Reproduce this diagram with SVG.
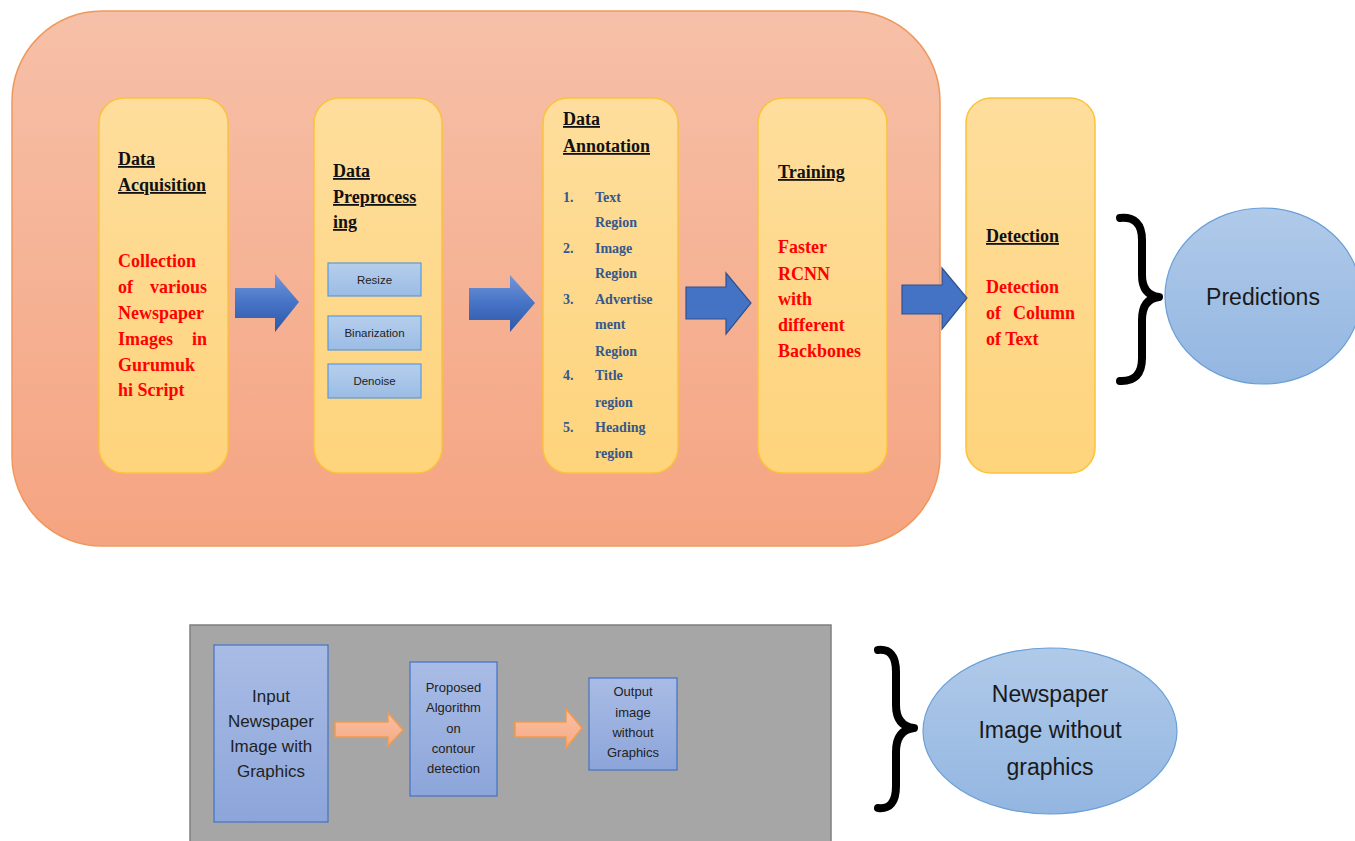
<svg xmlns="http://www.w3.org/2000/svg" width="1355" height="841" viewBox="0 0 1355 841">
<defs>
<linearGradient id="gBig" x1="0" y1="0" x2="0" y2="1"><stop offset="0" stop-color="#F6C0A8"/><stop offset="1" stop-color="#F5A481"/></linearGradient>
<linearGradient id="gY" x1="0" y1="0" x2="0" y2="1"><stop offset="0" stop-color="#FEDE9D"/><stop offset="1" stop-color="#FED47C"/></linearGradient>
<linearGradient id="gLB" x1="0" y1="0" x2="0" y2="1"><stop offset="0" stop-color="#B6CEEC"/><stop offset="1" stop-color="#9BBCE5"/></linearGradient>
<linearGradient id="gEl" x1="0" y1="0" x2="0" y2="1"><stop offset="0" stop-color="#B0CAE9"/><stop offset="1" stop-color="#93B6E1"/></linearGradient>
<linearGradient id="gBB" x1="0" y1="0" x2="0" y2="1"><stop offset="0" stop-color="#A9BCE5"/><stop offset="1" stop-color="#8CA5DA"/></linearGradient>
<linearGradient id="gArr" x1="0" y1="0" x2="0" y2="1"><stop offset="0" stop-color="#7396D8"/><stop offset="0.5" stop-color="#4673C6"/><stop offset="1" stop-color="#2E57A6"/></linearGradient>
<linearGradient id="gOr" x1="0" y1="0" x2="0" y2="1"><stop offset="0" stop-color="#F9C0A4"/><stop offset="1" stop-color="#F6AA85"/></linearGradient>
</defs>
<style>
.big{fill:url(#gBig);stroke:#EF985E;stroke-width:1.5}
.ybox{fill:url(#gY);stroke:#FBC23A;stroke-width:1.5}
.head{font-family:"Liberation Serif",serif;font-weight:bold;font-size:18px;fill:#111;text-decoration:underline}
.red{font-family:"Liberation Serif",serif;font-weight:bold;font-size:18px;fill:#FF0000}
.lst{font-family:"Liberation Serif",serif;font-weight:bold;font-size:14px;fill:#35588C}
.sb{fill:url(#gLB);stroke:#5B9BD5;stroke-width:1.2}
.sbt{font-family:"Liberation Sans",sans-serif;font-size:11.5px;fill:#222;text-anchor:middle}
.arrG{fill:url(#gArr);stroke:none}
.arrB{fill:#4472C4;stroke:#2F528F;stroke-width:1.2}
.arrO{fill:url(#gOr);stroke:#F39A4C;stroke-width:1.5}
.brace{fill:none;stroke:#000;stroke-width:8;stroke-linecap:round;stroke-linejoin:round}
.ell{fill:url(#gEl);stroke:#6A9FD8;stroke-width:1.2}
.et{font-family:"Liberation Sans",sans-serif;fill:#1a1a1a;text-anchor:middle}
.bb{fill:url(#gBB);stroke:#4472C4;stroke-width:1.2}
.bt{font-family:"Liberation Sans",sans-serif;fill:#222;text-anchor:middle}
</style>

<g id="pipeline">
<rect class="big" x="12" y="11" width="928" height="535" rx="90" ry="90"/>
</g>

<g id="acquisition">
<rect class="ybox" x="99" y="98" width="129" height="375" rx="25"/>
<text class="head" x="118" y="165">Data</text>
<text class="head" x="118" y="191">Acquisition</text>
<text class="red" x="118" y="267">Collection</text>
<text class="red" x="118" y="293">of</text><text class="red" x="207" y="293" text-anchor="end">various</text>
<text class="red" x="118" y="319">Newspaper</text>
<text class="red" x="118" y="345">Images</text><text class="red" x="207" y="345" text-anchor="end">in</text>
<text class="red" x="118" y="371">Gurumuk</text>
<text class="red" x="118" y="396">hi Script</text>
</g>

<g id="preprocessing">
<rect class="ybox" x="314" y="98" width="128" height="375" rx="25"/>
<text class="head" x="333" y="177">Data</text>
<text class="head" x="333" y="203">Preprocess</text>
<text class="head" x="333" y="228">ing</text>
<rect class="sb" x="328" y="263" width="93" height="33"/>
<text class="sbt" x="374.5" y="284">Resize</text>
<rect class="sb" x="328" y="316" width="93" height="34"/>
<text class="sbt" x="374.5" y="337">Binarization</text>
<rect class="sb" x="328" y="364" width="93" height="34"/>
<text class="sbt" x="374.5" y="385">Denoise</text>
</g>

<g id="annotation">
<rect class="ybox" x="543" y="98" width="135" height="375" rx="25"/>
<text class="head" x="563" y="125">Data</text>
<text class="head" x="563" y="152">Annotation</text>
<text class="lst" x="563" y="202">1.</text><text class="lst" x="595" y="202">Text</text>
<text class="lst" x="595" y="227">Region</text>
<text class="lst" x="563" y="253">2.</text><text class="lst" x="595" y="253">Image</text>
<text class="lst" x="595" y="278">Region</text>
<text class="lst" x="563" y="304">3.</text><text class="lst" x="595" y="304">Advertise</text>
<text class="lst" x="595" y="329">ment</text>
<text class="lst" x="595" y="356">Region</text>
<text class="lst" x="563" y="380">4.</text><text class="lst" x="595" y="380">Title</text>
<text class="lst" x="595" y="407">region</text>
<text class="lst" x="563" y="432">5.</text><text class="lst" x="595" y="432">Heading</text>
<text class="lst" x="595" y="458">region</text>
</g>

<g id="training">
<rect class="ybox" x="758" y="98" width="129" height="375" rx="25"/>
<text class="head" x="778" y="178">Training</text>
<text class="red" x="778" y="253">Faster</text>
<text class="red" x="778" y="280">RCNN</text>
<text class="red" x="778" y="305">with</text>
<text class="red" x="778" y="331">different</text>
<text class="red" x="778" y="357">Backbones</text>
</g>

<g id="detection">
<rect class="ybox" x="966" y="98" width="129" height="375" rx="25"/>
<text class="head" x="986" y="242">Detection</text>
<text class="red" x="986" y="293">Detection</text>
<text class="red" x="986" y="319">of</text><text class="red" x="1075" y="319" text-anchor="end">Column</text>
<text class="red" x="986" y="345">of Text</text>
</g>

<g id="predictions">
<ellipse class="ell" cx="1263" cy="296" rx="98" ry="88"/>
<text class="et" x="1263" y="305" font-size="23">Predictions</text>
</g>

<g id="graphics-removal">
<rect x="190" y="625" width="641" height="230" fill="#A6A6A6" stroke="#7F7F7F" stroke-width="1.5"/>
</g>

<g id="input">
<rect class="bb" x="214" y="645" width="114" height="177"/>
<text class="bt" font-size="17" x="271" y="702">Input</text>
<text class="bt" font-size="17" x="271" y="727">Newspaper</text>
<text class="bt" font-size="17" x="271" y="752">Image with</text>
<text class="bt" font-size="17" x="271" y="777">Graphics</text>
</g>

<g id="algorithm">
<rect class="bb" x="410" y="662" width="87" height="134"/>
<text class="bt" font-size="13" x="453.5" y="692">Proposed</text>
<text class="bt" font-size="13" x="453.5" y="712">Algorithm</text>
<text class="bt" font-size="13" x="453.5" y="733">on</text>
<text class="bt" font-size="13" x="453.5" y="753">contour</text>
<text class="bt" font-size="13" x="453.5" y="773">detection</text>
</g>

<g id="output">
<rect class="bb" x="589" y="678" width="88" height="92"/>
<text class="bt" font-size="13" x="633" y="696">Output</text>
<text class="bt" font-size="13" x="633" y="717">image</text>
<text class="bt" font-size="13" x="633" y="737">without</text>
<text class="bt" font-size="13" x="633" y="757">Graphics</text>
</g>

<g id="result">
<ellipse class="ell" cx="1050" cy="731" rx="127" ry="83"/>
<text class="et" font-size="23" x="1050" y="702">Newspaper</text>
<text class="et" font-size="23" x="1050" y="738">Image without</text>
<text class="et" font-size="23" x="1050" y="775">graphics</text>
</g>

<g id="connectors">
<path class="arrG" d="M235,288 L275,288 L275,274 L299,302 L275,332 L275,318 L235,318 Z"/>
<path class="arrG" d="M469,288 L510,288 L510,275 L535,303 L510,332 L510,320 L469,320 Z"/>
<path class="arrB" d="M686,287 L726,287 L726,273 L751,303 L726,334 L726,319 L686,319 Z"/>
<path class="arrB" d="M902,285 L942,285 L942,268 L967,298 L942,329 L942,314 L902,314 Z"/>
<path class="arrO" d="M335,722 L388,722 L388,713 L403,730 L388,746 L388,737 L335,737 Z"/>
<path class="arrO" d="M515,722 L566,722 L566,709 L582,728 L566,748 L566,737 L515,737 Z"/>
<path class="brace" d="M1120,218 Q1142,216 1142,240 L1142,275 Q1142,295 1159,297 Q1142,299 1142,320 L1142,358 Q1142,382 1120,381"/>
<path class="brace" d="M878,650 Q896,648 896,672 L896,705 Q896,726 914,728 Q896,730 896,752 L896,786 Q896,810 878,808"/>
</g>
</svg>
